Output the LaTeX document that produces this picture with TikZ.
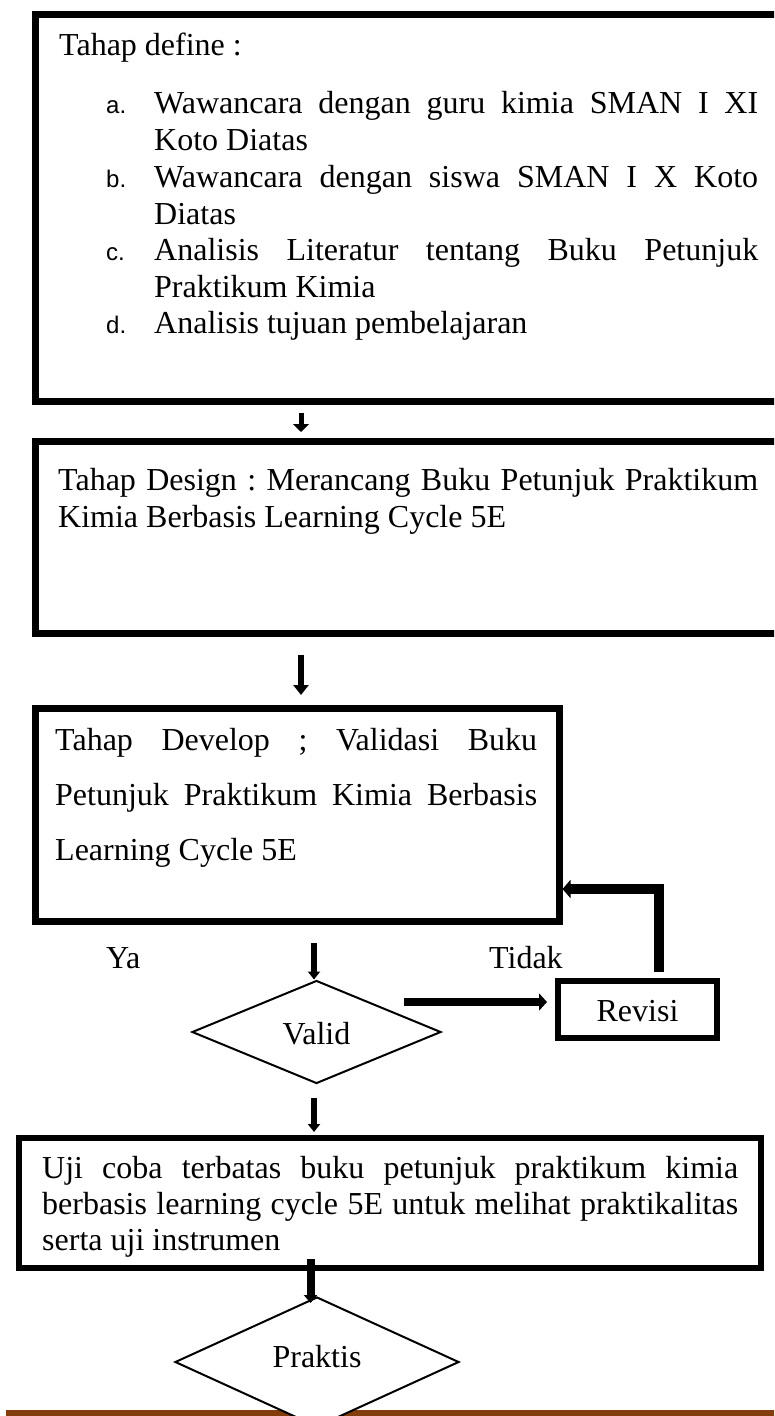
\documentclass[tikz,border=0pt]{standalone}
\usepackage{fontspec}
\setmainfont{Liberation Serif}
\newfontfamily\labelfont{Liberation Sans}
\usetikzlibrary{arrows.meta,shapes.geometric,calc}
\definecolor{barbrown}{HTML}{833C0B}
\tolerance=10000
\hbadness=10000
\hyphenpenalty=10000
\exhyphenpenalty=10000
\frenchspacing
\begin{document}
\begin{tikzpicture}[x=1pt,y=-1pt,
  frame/.style={draw, rectangle, inner sep=0pt},
  ptext/.style={anchor=base west, inner sep=0pt, align=justify, font=\fontsize{32}{37}\selectfont},
  ltext/.style={anchor=base west, inner sep=0pt, font=\fontsize{32}{37}\selectfont},
  lbl/.style={anchor=base west, inner sep=0pt, font=\labelfont\fontsize{24}{28}\selectfont},
  decision/.style={draw, shape=diamond, line width=2pt, inner sep=0pt, fill=white, font=\fontsize{32}{37}\selectfont},
  conn/.style={draw, line join=miter}
]
\useasboundingbox (0,0) rectangle (774,1416);
\clip (0,0) rectangle (774,1416);

% column coordinates for the vertical connectors
\coordinate (colA) at (301,0);
\coordinate (colB) at (314,0);
\coordinate (colC) at (310.5,0);

% ---------- Box 1: define ----------
\node[frame, line width=6.5pt, minimum width=754.5pt, minimum height=387pt] (define) at (412.75,208) {};
\node[ltext] (defTitle) at (59,55) {Tahap define :};
\node[lbl] (la) at (106,113) {a.};
\node[ptext, text width=604pt] (ia) at (154,113) {Wawancara dengan guru kimia SMAN I XI\linebreak Koto Diatas};
\node[lbl] (lb) at (106,187) {b.};
\node[ptext, text width=604pt] (ib) at (154,187) {Wawancara dengan siswa SMAN I X Koto\linebreak Diatas};
\node[lbl] (lc) at (106,260) {c.};
\node[ptext, text width=604pt] (ic) at (154,260) {Analisis Literatur tentang Buku Petunjuk\linebreak Praktikum Kimia};
\node[lbl] (ld) at (106,333) {d.};
\node[ltext] (id) at (154,333) {Analisis tujuan pembelajaran};

% ---------- Box 2: design ----------
\node[frame, line width=7pt, minimum width=754.5pt, minimum height=192pt] (design) at (412.75,537.5) {};
\node[ptext, text width=700pt] (designText) at (58,490) {Tahap Design : Merancang Buku Petunjuk Praktikum\linebreak Kimia Berbasis Learning Cycle 5E};

% ---------- Box 3: develop ----------
\node[frame, line width=7pt, minimum width=524pt, minimum height=212.5pt] (develop) at (297,814.75) {};
\node[ptext, text width=482pt, font=\fontsize{32}{55}\selectfont] (developText) at (55,750) {Tahap Develop ; Validasi Buku\linebreak Petunjuk Praktikum Kimia Berbasis\linebreak Learning Cycle 5E};

% labels
\node[ltext] (ya) at (106,968) {Ya};
\node[ltext] (tidak) at (489,968) {Tidak};

% ---------- Valid decision ----------
\node[decision, minimum width=249pt, minimum height=103pt] (valid) at (316.5,1032) {\raisebox{-2pt}[\height][\depth]{Valid}};

% ---------- Revisi ----------
\node[frame, line width=6pt, minimum width=159pt, minimum height=57pt, font=\fontsize{32}{37}\selectfont] (revisi) at (637.5,1009) {\raisebox{-2pt}[\height][\depth]{Revisi}};

% ---------- Box 4: uji coba ----------
\node[frame, line width=6pt, minimum width=742pt, minimum height=130pt] (uji) at (390,1202.5) {};
\node[ptext, text width=696pt, font=\fontsize{32}{36}\selectfont] (ujiText) at (42,1178) {Uji coba terbatas buku petunjuk praktikum kimia\linebreak berbasis learning cycle 5E untuk melihat praktikalitas\linebreak serta uji instrumen};

% brown bar at page bottom
\fill[barbrown] (6,1409.5) rectangle (790,1425);

% ---------- Praktis decision ----------
\node[decision, minimum width=284pt, minimum height=130pt] (praktis) at (317,1362) {\raisebox{5pt}[\height][\depth]{Praktis}};

% ---------- connectors ----------
\draw[conn, line width=5pt, -{Triangle[width=16pt,length=8pt]}, shorten <=8.25pt, shorten >=6pt]
  (define.south -| colA) -- (design.north -| colA);
\draw[conn, line width=5.5pt, -{Triangle[width=15pt,length=10pt]}, shorten <=18pt, shorten >=10pt]
  (design.south -| colA) -- (develop.north -| colA);
\draw[conn, line width=5.5pt, -{Triangle[width=12pt,length=8pt]}, shorten <=18.5pt]
  (develop.south -| colB) -- (valid.north -| colB);
\draw[conn, line width=5.5pt, -{Triangle[width=12pt,length=8pt]}, shorten <=13.5pt, shorten >=2.5pt]
  (valid.south -| colB) -- (uji.north -| colB);
\draw[conn, line width=8pt, -{Triangle[width=13pt,length=8pt]}, shorten <=-11.5pt, shorten >=-7pt]
  (uji.south -| colC) -- (praktis.north -| colC);

\coordinate (vOut) at (404,1002);
\draw[conn, line width=8pt, -{Triangle[width=17pt,length=8pt]}, shorten >=8pt]
  (vOut) -- (revisi.west |- vOut);

\coordinate (fbCorner) at (659,889);
\draw[conn, line width=10pt, -{Triangle[width=18pt,length=8pt]}, shorten <=5.5pt]
  (revisi.north -| fbCorner) -- (fbCorner) -- (develop.east |- fbCorner);
\end{tikzpicture}
\end{document}
